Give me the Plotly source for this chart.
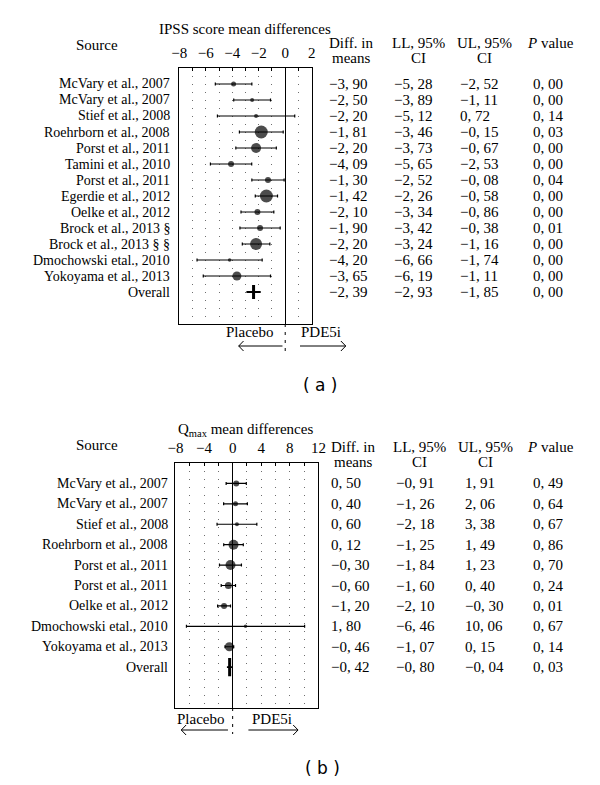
import plotly.graph_objects as go

W, H = 600, 785


def px(x):
    return x / W


def py(y):
    return 1 - y / H


# ---------------- data (a) IPSS ----------------
studies_a = ["McVary et al., 2007", "McVary et al., 2007", "Stief et al., 2008",
             "Roehrborn et al., 2008", "Porst et al., 2011", "Tamini et al., 2010",
             "Porst et al., 2011", "Egerdie et al., 2012", "Oelke et al., 2012",
             "Brock et al., 2013 §", "Brock et al., 2013 § §", "Dmochowski etal., 2010",
             "Yokoyama et al., 2013", "Overall"]
diff_a = [-3.90, -2.50, -2.20, -1.81, -2.20, -4.09, -1.30, -1.42, -2.10, -1.90, -2.20, -4.20, -3.65, -2.39]
ll_a = [-5.28, -3.89, -5.12, -3.46, -3.73, -5.65, -2.52, -2.26, -3.34, -3.42, -3.24, -6.66, -6.19, -2.93]
ul_a = [-2.52, -1.11, 0.72, -0.15, -0.67, -2.53, -0.08, -0.58, -0.86, -0.38, -1.16, -1.74, -1.11, -1.85]
p_a = [0.00, 0.00, 0.14, 0.03, 0.00, 0.00, 0.04, 0.00, 0.00, 0.01, 0.00, 0.00, 0.00, 0.00]
weight_a = [5, 4, 4, 13, 10, 6, 6, 13, 6, 6, 12, 3.5, 9]
ticks_a = list(range(-8, 3))

# ---------------- data (b) Qmax ----------------
studies_b = ["McVary et al., 2007", "McVary et al., 2007", "Stief et al., 2008",
             "Roehrborn et al., 2008", "Porst et al., 2011", "Porst et al., 2011",
             "Oelke et al., 2012", "Dmochowski etal., 2010", "Yokoyama et al., 2013", "Overall"]
diff_b = [0.50, 0.40, 0.60, 0.12, -0.30, -0.60, -1.20, 1.80, -0.46, -0.42]
ll_b = [-0.91, -1.26, -2.18, -1.25, -1.84, -1.60, -2.10, -6.46, -1.07, -0.80]
ul_b = [1.91, 2.06, 3.38, 1.49, 1.23, 0.40, -0.30, 10.06, 0.15, -0.04]
p_b = [0.49, 0.64, 0.67, 0.86, 0.70, 0.24, 0.01, 0.67, 0.14, 0.03]
weight_b = [6, 5, 4, 10, 10, 7, 6, 3.5, 9]
ticks_b = list(range(-8, 13, 2))

SERIF = "Liberation Serif"
FS = 15      # values, headers, ticks
FS_LAB = 14  # study labels


def fmt(v):
    s = f"{abs(v):.2f}".replace(".", ", ")
    return ("−" if v < 0 else "") + s


def tlabel(v):
    return ("−" if v < 0 else "") + str(abs(v))


fig = go.Figure()
annotations = []
shapes = []

panels = [
    dict(xa="x", ya="y", studies=studies_a, diff=diff_a, ll=ll_a, ul=ul_a, p=p_a, w=weight_a,
         ticks=ticks_a, labstep=2, xdom=(176, 312), ydom=(68, 324), xr=(-8, 2),
         title="IPSS score mean differences", title_y=29, src_y=45, hdr_y=(43, 58),
         src_right=168, cols=(328, 395, 462, 537), hdr_cx=(352, 422, 490, 557),
         plc=(248, 332), pde=(322, 332), arrowL=(282, 237, 346), arrowR=(300, 347, 346),
         dash_end=352, tag="( a )", tag_pos=(321, 385), bar=10),
    dict(xa="x2", ya="y2", studies=studies_b, diff=diff_b, ll=ll_b, ul=ul_b, p=p_b, w=weight_b,
         ticks=ticks_b, labstep=4, xdom=(172, 319), ydom=(463, 708), xr=(-8, 12),
         title="Q<sub>max</sub> mean differences", title_y=430, src_y=445, hdr_y=(447, 462),
         src_right=166, cols=(330, 397, 467, 537), hdr_cx=(354, 423, 491, 557),
         plc=(198, 719), pde=(271, 719), arrowL=(226, 178, 730), arrowR=(247, 298, 730),
         dash_end=734, tag="( b )", tag_pos=(323, 768), bar=13),
]

layout_axes = {}
for i, P in enumerate(panels):
    n = len(P["studies"])
    rows = list(range(n))
    m = n - 1
    xs = P["diff"][:m]
    plus = [u - d for u, d in zip(P["ul"][:m], xs)]
    minus = [d - l for d, l in zip(xs, P["ll"][:m])]
    fig.add_trace(go.Scatter(
        x=xs, y=rows[:m], mode="markers", xaxis=P["xa"], yaxis=P["ya"],
        marker=dict(color="black", size=P["w"], line=dict(width=0)),
        error_x=dict(type="data", array=plus, arrayminus=minus, color="black",
                     thickness=1.2, width=1.5),
        hoverinfo="skip"))
    od = P["diff"][m]
    fig.add_trace(go.Scatter(
        x=[od], y=[m], mode="markers", xaxis=P["xa"], yaxis=P["ya"],
        marker=dict(symbol="line-ns", size=P["bar"], color="black",
                    line=dict(color="black", width=3)),
        error_x=dict(type="data", array=[P["ul"][m] - od], arrayminus=[od - P["ll"][m]],
                     color="black", thickness=1.8, width=0),
        hoverinfo="skip"))

    xkey = "xaxis" if i == 0 else "xaxis2"
    ykey = "yaxis" if i == 0 else "yaxis2"
    layout_axes[xkey] = dict(
        domain=[px(P["xdom"][0]), px(P["xdom"][1])], range=list(P["xr"]),
        anchor=P["ya"], side="top", tickmode="array", tickvals=P["ticks"],
        ticktext=[tlabel(v) if v % P["labstep"] == 0 else " " for v in P["ticks"]],
        ticks="inside", ticklen=3, tickcolor="black", tickwidth=1,
        ticklabelstandoff=3,
        tickfont=dict(family=SERIF, size=FS, color="black"),
        showline=True, mirror=True, linecolor="black", linewidth=1,
        showgrid=True, gridcolor="#6e6e6e", gridwidth=1, griddash="1px,7px",
        zeroline=True, zerolinecolor="black", zerolinewidth=1, fixedrange=True)
    layout_axes[ykey] = dict(
        domain=[py(P["ydom"][1]), py(P["ydom"][0])], range=[n + 1, -1],
        anchor=P["xa"], showticklabels=False, ticks="", showgrid=False,
        zeroline=False, showline=True, mirror=True, linecolor="black", linewidth=1,
        fixedrange=True)

    font = dict(family=SERIF, size=FS, color="black")
    font_lab = dict(family=SERIF, size=FS_LAB, color="black")
    yref = P["ya"]
    # title / headers
    annotations.append(dict(text=P["title"], x=px(244), y=py(P["title_y"]), xref="paper",
                            yref="paper", showarrow=False, xanchor="center", yanchor="middle",
                            font=font))
    annotations.append(dict(text="Source", x=px(91), y=py(P["src_y"]), xref="paper",
                            yref="paper", showarrow=False, xanchor="center", yanchor="middle",
                            font=font))
    hdrs = [("Diff. in", "means"), ("LL, 95%", "CI"), ("UL, 95%", "CI"), ("<i>P</i> value", "")]
    for (l1, l2), cx in zip(hdrs, P["hdr_cx"]):
        for txt, yy in zip((l1, l2), P["hdr_y"]):
            if txt:
                annotations.append(dict(text=txt, x=px(cx), y=py(yy), xref="paper",
                                        yref="paper", showarrow=False, xanchor="center",
                                        yanchor="middle", font=font))
    # rows
    for r in rows:
        annotations.append(dict(text=P["studies"][r], x=px(P["src_right"]), y=r, xref="paper",
                                yref=yref, showarrow=False, xanchor="right", yanchor="middle",
                                font=font_lab))
        vals = [P["diff"][r], P["ll"][r], P["ul"][r], P["p"][r]]
        for v, cx in zip(vals, P["cols"]):
            annotations.append(dict(text=fmt(v), x=px(cx), y=r, xref="paper", yref=yref,
                                    showarrow=False, xanchor="left", yanchor="middle",
                                    font=font))
    # placebo / PDE5i
    annotations.append(dict(text="Placebo", x=px(P["plc"][0]), y=py(P["plc"][1]),
                            xref="paper", yref="paper", showarrow=False, xanchor="center",
                            yanchor="middle", font=font))
    annotations.append(dict(text="PDE5i", x=px(P["pde"][0]), y=py(P["pde"][1]),
                            xref="paper", yref="paper", showarrow=False, xanchor="center",
                            yanchor="middle", font=font))
    annotations.append(dict(text=P["tag"], x=px(P["tag_pos"][0]), y=py(P["tag_pos"][1]),
                            xref="paper", yref="paper", showarrow=False, xanchor="center",
                            yanchor="middle",
                            font=dict(family="DejaVu Sans", size=17, color="black")))
    # dashed zero extension
    shapes.append(dict(type="line", xref=P["xa"], yref="paper", x0=0, x1=0,
                       y0=py(P["ydom"][1]), y1=py(P["dash_end"]),
                       line=dict(color="black", width=1, dash="3px,5px")))
    # arrows
    x0, x1, ay = P["arrowL"]
    pathL = (f"M{px(x0)},{py(ay)} L{px(x1)},{py(ay)} "
             f"M{px(x1 + 5)},{py(ay - 5)} L{px(x1)},{py(ay)} L{px(x1 + 5)},{py(ay + 5)}")
    x0, x1, ay = P["arrowR"]
    pathR = (f"M{px(x0)},{py(ay)} L{px(x1)},{py(ay)} "
             f"M{px(x1 - 5)},{py(ay - 5)} L{px(x1)},{py(ay)} L{px(x1 - 5)},{py(ay + 5)}")
    for pth in (pathL, pathR):
        shapes.append(dict(type="path", xref="paper", yref="paper", path=pth,
                           line=dict(color="black", width=1)))

fig.update_layout(
    width=W, height=H, margin=dict(l=0, r=0, t=0, b=0),
    paper_bgcolor="white", plot_bgcolor="white", showlegend=False,
    annotations=annotations, shapes=shapes, **layout_axes)

fig.write_html("out.html", config={"displayModeBar": False},
               post_script="document.body.style.margin='0';")
